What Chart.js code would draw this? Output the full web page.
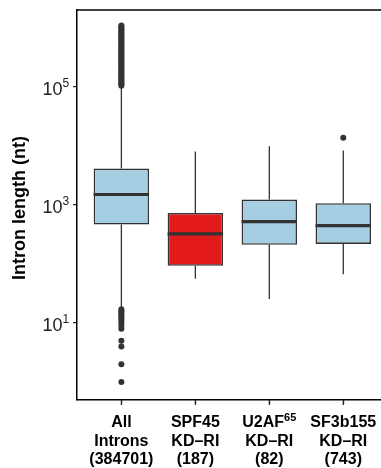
<!DOCTYPE html>
<html>
<head>
<meta charset="utf-8">
<script src="https://cdn.jsdelivr.net/npm/chart.js@4.4.1/dist/chart.umd.min.js"></script>
<style>
  html, body { margin: 0; padding: 0; background: #fff; overflow: hidden; }
  #wrap { width: 381px; height: 468px; position: relative; }
</style>
</head>
<body>
<div id="wrap"><canvas id="chart"></canvas></div>
<script>
// category labels, one line per entry; "^" marks a superscript
const categories = [
  ["All", "Introns", "(384701)"],
  ["SPF45", "KD\u2013RI", "(187)"],
  ["U2AF^65", "KD\u2013RI", "(82)"],
  ["SF3b155", "KD\u2013RI", "(743)"]
];

// box statistics (intron length, nt)
const whiskerLow  = [17.5, 56, 25.5, 67];
const q1          = [463, 93, 210, 218];
const median      = [1496, 322, 521, 446];
const q3          = [4120, 731, 1230, 1064];
const whiskerHigh = [101000, 8000, 9840, 8300];

// outliers per category
const outliersAll = [
  1, 2, 4, 5, 8, 9, 10, 11, 12, 13, 14, 15, 16, 17,
  104000, 109000, 115000, 121000, 128000, 134000, 142000, 149000, 158000,
  166000, 175000, 186000, 195000, 207000, 219000, 231000, 242000, 257000,
  270000, 286000, 300000, 318000, 336000, 353000, 374000, 393000, 417000,
  438000, 464000, 488000, 517000, 544000, 576000, 606000, 641000, 675000,
  714000, 751000, 795000, 837000, 885000, 932000, 986000, 1040000, 1090000
];
const outliersSF3b = [13700];

// tick labels for the log axis: [base, exponent]
const yTicks = [10, 1000, 100000];
const yTickLabels = [["10", "1"], ["10", "3"], ["10", "5"]];

const boxColors = ["#a6cee3", "#e31a1c", "#a6cee3", "#a6cee3"];

const outlierPoints = outliersAll.map(v => ({ x: 0, y: v }))
  .concat(outliersSF3b.map(v => ({ x: 3, y: v })));

function drawLabelLine(ctx, text, cx, baseline) {
  const parts = text.split("^");
  ctx.font = "bold 16px 'Liberation Sans', Arial, sans-serif";
  const w1 = ctx.measureText(parts[0]).width;
  let w2 = 0;
  if (parts[1]) {
    ctx.font = "bold 11px 'Liberation Sans', Arial, sans-serif";
    w2 = ctx.measureText(parts[1]).width;
  }
  const left = cx - (w1 + w2) / 2;
  ctx.textAlign = "left";
  ctx.font = "bold 16px 'Liberation Sans', Arial, sans-serif";
  ctx.fillText(parts[0], left, baseline);
  if (parts[1]) {
    ctx.font = "bold 11px 'Liberation Sans', Arial, sans-serif";
    ctx.fillText(parts[1], left + w1, baseline - 6);
  }
}

const boxExtras = {
  id: "boxExtras",
  beforeDatasetsDraw(chart) {
    const { ctx, scales: { x, y } } = chart;
    ctx.save();
    ctx.strokeStyle = "#333";
    ctx.lineWidth = 1.3;
    categories.forEach((c, i) => {
      const px = x.getPixelForValue(i);
      ctx.beginPath();
      ctx.moveTo(px, y.getPixelForValue(q3[i]));
      ctx.lineTo(px, y.getPixelForValue(whiskerHigh[i]));
      ctx.moveTo(px, y.getPixelForValue(q1[i]));
      ctx.lineTo(px, y.getPixelForValue(whiskerLow[i]));
      ctx.stroke();
    });
    ctx.restore();
  },
  afterDatasetsDraw(chart) {
    const { ctx, scales: { x, y } } = chart;
    ctx.save();
    ctx.strokeStyle = "#333";
    ctx.lineWidth = 3.2;
    categories.forEach((c, i) => {
      const py = y.getPixelForValue(median[i]);
      ctx.beginPath();
      ctx.moveTo(x.getPixelForValue(i - 0.375), py);
      ctx.lineTo(x.getPixelForValue(i + 0.375), py);
      ctx.stroke();
    });
    ctx.restore();
  },
  afterDraw(chart) {
    const { ctx, chartArea, scales: { x, y } } = chart;
    ctx.save();
    // top panel line
    ctx.strokeStyle = "#000";
    ctx.lineWidth = 1.5;
    ctx.beginPath();
    ctx.moveTo(chartArea.left, chartArea.top);
    ctx.lineTo(chart.width, chartArea.top);
    ctx.stroke();

    // x tick marks under each category
    ctx.strokeStyle = "#222";
    ctx.lineWidth = 1.2;
    categories.forEach((c, i) => {
      const px = x.getPixelForValue(i);
      ctx.beginPath();
      ctx.moveTo(px, chartArea.bottom);
      ctx.lineTo(px, chartArea.bottom + 5);
      ctx.stroke();
    });

    // y tick labels with superscripts
    ctx.fillStyle = "#222";
    yTicks.forEach((v, i) => {
      const py = y.getPixelForValue(v);
      ctx.textAlign = "right";
      ctx.font = "18px 'Liberation Sans', Arial, sans-serif";
      ctx.fillText(yTickLabels[i][0], 62.5, py + 8.5);
      ctx.textAlign = "left";
      ctx.font = "12px 'Liberation Sans', Arial, sans-serif";
      ctx.fillText(yTickLabels[i][1], 62.5, py + 0.5);
    });

    // x category labels
    ctx.fillStyle = "#000";
    categories.forEach((lines, i) => {
      const cx = x.getPixelForValue(i);
      lines.forEach((t, j) => drawLabelLine(ctx, t, cx, 427 + j * 18.5));
    });

    // y title
    ctx.translate(20, 208);
    ctx.rotate(-Math.PI / 2);
    ctx.textAlign = "center";
    ctx.textBaseline = "middle";
    ctx.font = "bold 18px 'Liberation Sans', Arial, sans-serif";
    ctx.fillText("Intron length (nt)", 0, 0);
    ctx.restore();
  }
};

new Chart(document.getElementById("chart").getContext("2d"), {
  type: "bar",
  data: {
    datasets: [
      {
        type: "bar",
        data: categories.map((c, i) => ({ x: i, y: [q1[i], q3[i]] })),
        backgroundColor: boxColors,
        borderColor: "#333",
        borderWidth: 1.6,
        borderSkipped: false,
        barPercentage: 0.75,
        categoryPercentage: 1
      },
      {
        type: "scatter",
        data: outlierPoints,
        backgroundColor: "#333",
        borderWidth: 0,
        pointRadius: 3
      }
    ]
  },
  options: {
    responsive: true,
    maintainAspectRatio: false,
    animation: false,
    layout: { autoPadding: false, padding: { top: 10, right: 0, left: 0, bottom: 0 } },
    plugins: {
      legend: { display: false },
      tooltip: { enabled: false }
    },
    scales: {
      x: {
        type: "linear",
        offset: false,
        min: -0.6,
        max: 3.51,
        afterBuildTicks: s => { s.ticks = categories.map((c, i) => ({ value: i })); },
        afterFit: s => { s.height = 68; },
        ticks: { display: false },
        grid: { display: true, offset: false, drawOnChartArea: false, drawTicks: true, tickLength: 4, color: "#222", lineWidth: 1.2 },
        border: { display: true, color: "#000", width: 1.5 }
      },
      y: {
        type: "logarithmic",
        min: 0.4955,
        max: 1995000,
        afterBuildTicks: s => { s.ticks = yTicks.map(v => ({ value: v })); },
        afterFit: s => { s.width = 77; },
        ticks: { display: false },
        grid: { display: true, offset: false, drawOnChartArea: false, drawTicks: true, tickLength: 4, color: "#222", lineWidth: 1.2 },
        border: { display: true, color: "#000", width: 1.5 }
      }
    }
  },
  plugins: [boxExtras]
});
</script>
</body>
</html>
